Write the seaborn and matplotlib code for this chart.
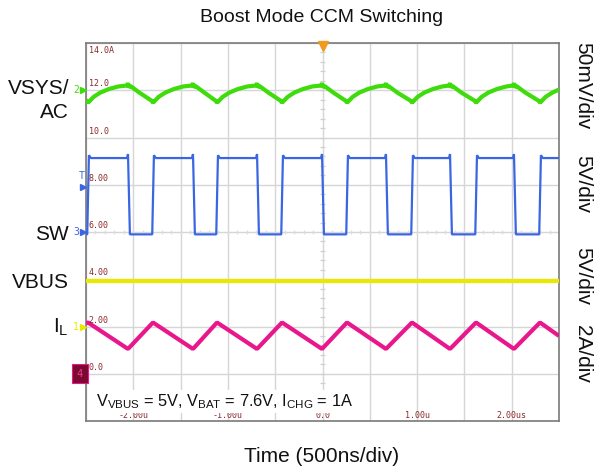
import numpy as np
import pandas as pd
import matplotlib
matplotlib.use("Agg")
import matplotlib.pyplot as plt
import seaborn as sns

# ---------------- data (time in us, values in screen units: 2 units = 1 div) ----------------
vsys_t = [-2.500, -2.479, -2.419, -2.349, -2.259, -2.159, -2.066, -2.056, -2.046, -2.030, -1.936, -1.804,
          -1.792, -1.732, -1.662, -1.572, -1.472, -1.379, -1.369, -1.359, -1.343, -1.249, -1.127,
          -1.115, -1.055, -0.985, -0.895, -0.795, -0.702, -0.692, -0.682, -0.666, -0.572, -0.440,
          -0.428, -0.368, -0.298, -0.208, -0.108, -0.015, -0.005, 0.005, 0.021, 0.115, 0.247,
          0.259, 0.319, 0.389, 0.479, 0.579, 0.661, 0.671, 0.681, 0.697, 0.791, 0.934,
          0.946, 1.006, 1.076, 1.166, 1.266, 1.338, 1.348, 1.358, 1.374, 1.468, 1.611,
          1.623, 1.683, 1.753, 1.843, 1.943, 2.014, 2.024, 2.034, 2.050, 2.144, 2.287,
          2.299, 2.359, 2.429, 2.500]
vsys_v = [11.60, 11.47, 11.72, 11.90, 12.05, 12.16, 12.20, 12.30, 12.12, 12.18, 11.90, 11.55,
          11.47, 11.72, 11.90, 12.05, 12.16, 12.20, 12.30, 12.12, 12.18, 11.90, 11.55,
          11.47, 11.72, 11.90, 12.05, 12.16, 12.20, 12.30, 12.12, 12.18, 11.90, 11.55,
          11.47, 11.72, 11.90, 12.05, 12.16, 12.20, 12.30, 12.12, 12.18, 11.90, 11.55,
          11.47, 11.72, 11.90, 12.05, 12.16, 12.20, 12.30, 12.12, 12.18, 11.90, 11.55,
          11.47, 11.72, 11.90, 12.05, 12.16, 12.20, 12.30, 12.12, 12.18, 11.90, 11.55,
          11.47, 11.72, 11.90, 12.05, 12.16, 12.20, 12.30, 12.12, 12.18, 11.90, 11.55,
          11.47, 11.72, 11.90, 12.03]

sw_t = [-2.500, -2.487, -2.469, -2.449, -2.066, -2.056, -2.036,
        -1.800, -1.782, -1.762, -1.379, -1.369, -1.349,
        -1.123, -1.105, -1.085, -0.702, -0.692, -0.672,
        -0.436, -0.418, -0.398, -0.015, -0.005, 0.015,
        0.251, 0.269, 0.289, 0.661, 0.671, 0.691,
        0.938, 0.956, 0.976, 1.338, 1.348, 1.368,
        1.615, 1.633, 1.653, 2.014, 2.024, 2.044,
        2.291, 2.309, 2.329, 2.500]
sw_v = [5.90, 5.90, 9.25, 9.13, 9.13, 9.30, 5.90,
        5.90, 9.25, 9.13, 9.13, 9.30, 5.90,
        5.90, 9.25, 9.13, 9.13, 9.30, 5.90,
        5.90, 9.25, 9.13, 9.13, 9.30, 5.90,
        5.90, 9.25, 9.13, 9.13, 9.30, 5.90,
        5.90, 9.25, 9.13, 9.13, 9.30, 5.90,
        5.90, 9.25, 9.13, 9.13, 9.30, 5.90,
        5.90, 9.25, 9.13, 9.13]

vbus_t = [-2.5, -1.2, 0.0, 1.2, 2.5]
vbus_v = [3.92, 3.92, 3.92, 3.92, 3.92]

il_t = [-2.500, -2.479, -2.056, -1.792, -1.369, -1.115, -0.692, -0.428, -0.005,
        0.259, 0.671, 0.946, 1.348, 1.623, 2.024, 2.299, 2.500]
il_v = [2.14, 2.17, 1.05, 2.17, 1.05, 2.17, 1.05, 2.17, 1.05,
        2.17, 1.05, 2.17, 1.05, 2.17, 1.05, 2.17, 1.60]

y_tick_vals = [14, 12, 10, 8, 6, 4, 2, 0]
y_tick_labels = ["14.0A", "12.0", "10.0", "8.00", "6.00", "4.00", "2.00", "0.0"]
x_tick_vals = [-2, -1, 0, 1, 2]
x_tick_labels = ["-2.00u", "-1.00u", "0.0", "1.00u", "2.00us"]

left_labels = ["VSYS/", "AC", "SW", "VBUS", r"I$_{\mathrm{L}}$"]
right_labels = ["50mV/div", "5V/div", "5V/div", "2A/div"]
title = "Boost Mode CCM Switching"
xlabel = "Time (500ns/div)"
note = r"V$_{\mathrm{VBUS}}$ = 5V, V$_{\mathrm{BAT}}$ = 7.6V, I$_{\mathrm{CHG}}$ = 1A"

# ---------------- styling ----------------
sns.set_theme(style="white")
plt.rcParams["font.family"] = ["Liberation Sans", "DejaVu Sans"]
plt.rcParams["mathtext.fontset"] = "custom"
plt.rcParams["mathtext.rm"] = "Liberation Sans"
plt.rcParams["mathtext.it"] = "Liberation Sans:italic"
plt.rcParams["mathtext.bf"] = "Liberation Sans:bold"

W, H = 597, 470
fig = plt.figure(figsize=(W / 100, H / 100), dpi=100)
ax = fig.add_axes([86 / W, 1 - 421 / H, 473 / W, 378 / H])

C_GREEN = "#3EDC0A"
C_BLUE = "#3A66E4"
C_YELLOW = "#E9E900"
C_PINK = "#E8188C"
C_RED = "#8B2A2A"

ax.set_xlim(-2.5, 2.5)
ax.set_ylim(-2, 14)
ax.set_xticks(np.arange(-2.5, 2.51, 0.5))
ax.set_yticks(np.arange(-2, 14.01, 2))
ax.tick_params(length=0, labelbottom=False, labelleft=False)
ax.grid(True, color="#D6D6D6", lw=1.0)
for s in ax.spines.values():
    s.set_color("#7A7A7A")
    s.set_linewidth(1.2)

# centre crosshair minor ticks
ax.hlines(np.arange(-2, 14.01, 0.4), -0.025, 0.025, color="#D0D0D0", lw=0.9, zorder=1)
ax.vlines(np.arange(-2.5, 2.51, 0.1), 5.9, 6.1, color="#DDDDDD", lw=0.9, zorder=1)

traces = [
    (vsys_t, vsys_v, C_GREEN, 3.0),
    (sw_t, sw_v, C_BLUE, 1.6),
    (vbus_t, vbus_v, C_YELLOW, 3.0),
    (il_t, il_v, C_PINK, 3.0),
]
for t, v, c, lw in traces:
    df = pd.DataFrame({"t": t, "v": v})
    sns.lineplot(data=df, x="t", y="v", ax=ax, color=c, lw=lw, sort=False,
                 estimator=None, zorder=3, solid_joinstyle="bevel", solid_capstyle="butt")
ax.set_xlabel("")
ax.set_ylabel("")

# inner scope tick labels
for val, lab in zip(y_tick_vals, y_tick_labels):
    if val == 14:
        ax.text(-2.47, val - 0.13, lab, color=C_RED, fontsize=6, family="DejaVu Sans Mono",
                ha="left", va="top", zorder=4)
    else:
        ax.text(-2.47, val + 0.08, lab, color=C_RED, fontsize=6, family="DejaVu Sans Mono",
                ha="left", va="bottom", zorder=4)
for val, lab in zip(x_tick_vals, x_tick_labels):
    ax.text(val, -1.95, lab, color=C_RED, fontsize=6, family="DejaVu Sans Mono",
            ha="center", va="bottom", zorder=4)

# annotation with white box
ax.text(-2.39, -1.18, note, fontsize=11.8, color="#111111", ha="left", va="center",
        bbox=dict(facecolor="white", edgecolor="none", pad=1.5), zorder=5)

# channel markers
ax.plot(0, 13.88, marker="v", color="#F29A1F", markersize=7, clip_on=False, zorder=6)
mk = dict(clip_on=False, zorder=6, marker=">", markersize=4.5, lw=0)
ax.plot(-2.535, 12.0, color=C_GREEN, **mk)
ax.text(-2.575, 12.0, "2", color=C_GREEN, fontsize=7, family="DejaVu Sans Mono", ha="right", va="center")
ax.plot(-2.535, 7.9, color=C_BLUE, **mk)
ax.text(-2.55, 8.35, "T", color=C_BLUE, fontsize=7, family="DejaVu Sans Mono", ha="center", va="center")
ax.plot(-2.535, 6.0, color=C_BLUE, **mk)
ax.text(-2.575, 6.0, "3", color=C_BLUE, fontsize=7, family="DejaVu Sans Mono", ha="right", va="center")
ax.plot(-2.535, 2.0, color=C_YELLOW, **mk)
ax.text(-2.575, 2.0, "1", color=C_YELLOW, fontsize=7, family="DejaVu Sans Mono", ha="right", va="center")
ax.text(-2.565, 0.0, "4", color="#F03C96", fontsize=7.5, family="DejaVu Sans Mono", ha="center", va="center",
        bbox=dict(boxstyle="square,pad=0.45", facecolor="#7A0A30", edgecolor="#E8188C", lw=0.8),
        zorder=6, clip_on=False)

# outside texts
fig.text(322 / W, 1 - 17 / H, title, fontsize=14, ha="center", va="center", color="#111111")
fig.text(322 / W, 1 - 456 / H, xlabel, fontsize=15, ha="center", va="center", color="#111111")
left_y = [88, 112, 235, 283, 327]
for lab, py in zip(left_labels, left_y):
    fig.text(69 / W, 1 - py / H, lab, fontsize=15, ha="right", va="center", color="#111111")
right_y = [86, 184, 276, 354]
for lab, py in zip(right_labels, right_y):
    fig.text(583 / W, 1 - py / H, lab, fontsize=15, ha="center", va="center", rotation=-90,
             color="#111111")

fig.savefig("out.png", dpi=100)
